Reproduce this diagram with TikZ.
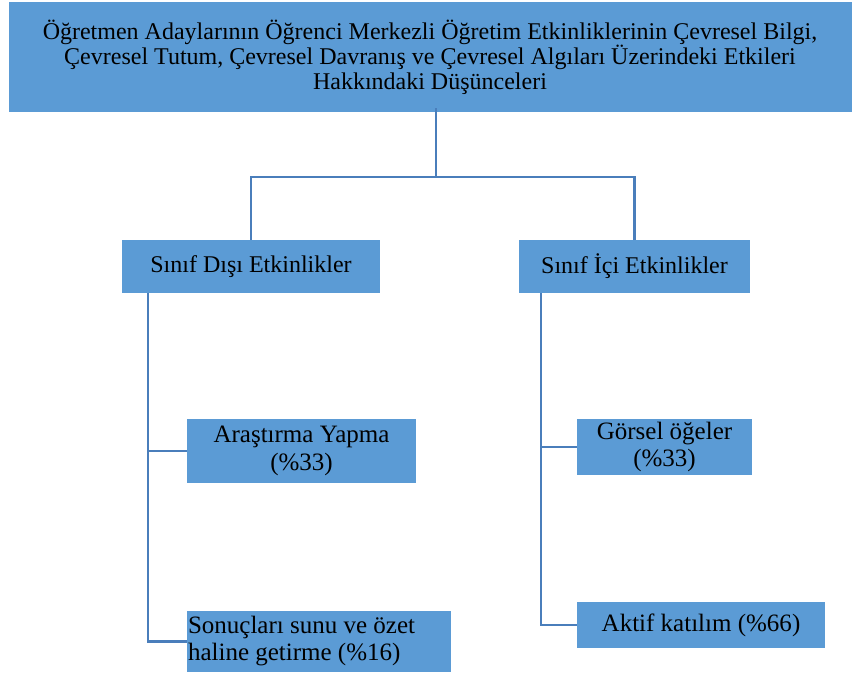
\documentclass[tikz,border=0pt]{standalone}
\usepackage{fontspec}
\setmainfont{Liberation Serif}
\definecolor{boxblue}{HTML}{5B9BD5}
\definecolor{linkblue}{HTML}{4A7EBB}
\begin{document}
\begin{tikzpicture}[x=1pt,y=-1pt,
  bx/.style={fill=boxblue, draw=none, inner sep=0pt, align=center, text=black},
  link/.style={draw=linkblue, line width=2.6pt}]
\useasboundingbox (0,0) rectangle (853,673);
\node[bx, minimum width=843pt, minimum height=110pt, font=\fontsize{24}{25}\selectfont] (top) at (430,57)
 {Öğretmen Adaylarının Öğrenci Merkezli Öğretim Etkinliklerinin Çevresel Bilgi,\\
  Çevresel Tutum, Çevresel Davranış ve Çevresel Algıları Üzerindeki Etkileri\\
  Hakkındaki Düşünceleri};
\node[bx, minimum width=258pt, minimum height=53pt, font=\fontsize{24}{26}\selectfont] (dis) at (251,266.5) {Sınıf Dışı Etkinlikler};
\node[bx, minimum width=231pt, minimum height=53pt, font=\fontsize{24}{26}\selectfont] (ici) at (634.5,266.5) {Sınıf İçi Etkinlikler};
\node[bx, minimum width=229pt, minimum height=64pt, font=\fontsize{25}{28}\selectfont] (ara) at (301.5,451) {Araştırma Yapma\\(\%33)};
\node[bx, text width=262pt, minimum height=61pt, inner xsep=1pt, font=\fontsize{25}{27}\selectfont, align=flush left] (son) at (319,641.5)
 {Sonuçları sunu ve özet\\haline getirme (\%16)};
\node[bx, minimum width=175pt, minimum height=56pt, font=\fontsize{25}{27}\selectfont] (gor) at (664.5,447) {Görsel öğeler\\(\%33)};
\node[bx, minimum width=248pt, minimum height=46pt, font=\fontsize{25}{27}\selectfont] (akt) at (701,625) {Aktif katılım (\%66)};
\coordinate (j) at (436,177);
\coordinate (ls) at (148,0);
\coordinate (rs) at (541,0);
\draw[link] ([yshift=4pt]j |- top.south) -- (j);
\draw[link] (dis.north) |- (j) -| (ici.north);
\draw[link] (dis.south -| ls) |- (ara.west);
\draw[link] (dis.south -| ls) |- (son.west);
\draw[link] (ici.south -| rs) |- (gor.west);
\draw[link] (ici.south -| rs) |- (akt.west);
\end{tikzpicture}
\end{document}
